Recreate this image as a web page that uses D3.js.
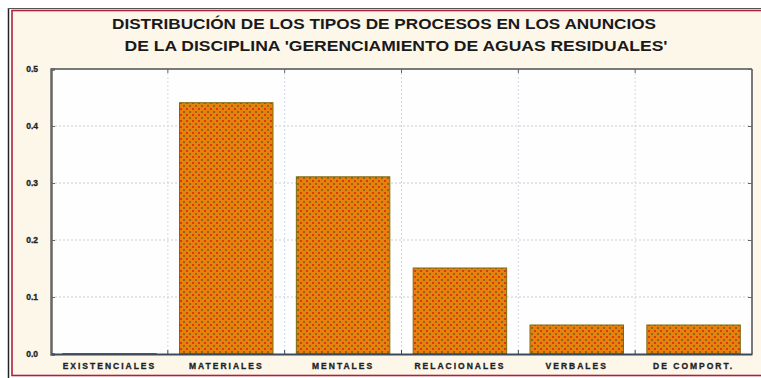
<!DOCTYPE html>
<html><head><meta charset="utf-8">
<script src="https://cdn.jsdelivr.net/npm/d3@7"></script>
<style>body{margin:0;background:#fff}svg{display:block}</style>
</head><body>
<script>
const categories = ["EXISTENCIALES","MATERIALES","MENTALES","RELACIONALES","VERBALES","DE COMPORT."];
const values = [0, 0.44, 0.31, 0.15, 0.05, 0.05];
const yTicks = [0, 0.1, 0.2, 0.3, 0.4, 0.5];
const titleLines = ["DISTRIBUCIÓN DE LOS TIPOS DE PROCESOS EN LOS ANUNCIOS","DE LA DISCIPLINA 'GERENCIAMIENTO DE AGUAS RESIDUALES'"];

const W = 761, H = 378;
const svg = d3.select("body").append("svg").attr("width", W).attr("height", H);
const defs = svg.append("defs");
const pat = defs.append("pattern").attr("id","dots").attr("patternUnits","userSpaceOnUse").attr("width",6).attr("height",6);
pat.append("rect").attr("width",6).attr("height",6).attr("fill","#e8800c");
pat.append("rect").attr("x",0).attr("y",0).attr("width",2).attr("height",2).attr("fill","#d83a14");
pat.append("rect").attr("x",3).attr("y",3).attr("width",2).attr("height",2).attr("fill","#8a6a14");

// frame background
svg.append("rect").attr("x",0).attr("y",0).attr("width",W).attr("height",H).attr("fill","#ffffff");
svg.append("rect").attr("x",12).attr("y",10).attr("width",W-12).attr("height",366).attr("fill","#fdf7ea");
svg.append("line").attr("x1",8.5).attr("x2",8.5).attr("y1",8).attr("y2",H).attr("stroke","#222").attr("stroke-width",1.5);
svg.append("line").attr("x1",8).attr("x2",W).attr("y1",8.5).attr("y2",8.5).attr("stroke","#555").attr("stroke-width",1);
svg.append("rect").attr("x",12).attr("y",10.5).attr("width",W-10).attr("height",365).attr("fill","none").attr("stroke","#b0203a").attr("stroke-width",1.6);

// title
svg.selectAll("text.title").data(titleLines).join("text").attr("class","title")
  .attr("x",(d,i)=> i===0 ? 384 : 396).attr("y",(d,i)=>29+i*22).attr("text-anchor","middle")
  .attr("font-family","Liberation Sans, Arial, sans-serif").attr("font-weight","bold").attr("font-size",15.5)
  .attr("fill","#1a1a1a").attr("textLength",(d,i)=> i===0 ? 544 : 543).attr("lengthAdjust","spacingAndGlyphs")
  .text(d=>d);

const m = {l:51, r:752, t:69, b:354};
const x = d3.scaleBand().domain(categories).range([m.l, m.r]).paddingInner(0.2).paddingOuter(0.1);
const y = d3.scaleLinear().domain([0,0.5]).range([m.b, m.t]);
const step = x.step();

svg.append("rect").attr("x",m.l).attr("y",m.t).attr("width",m.r-m.l).attr("height",m.b-m.t).attr("fill","#fefefe");

// grid
const g = svg.append("g");
g.selectAll("line.hg").data(yTicks.filter(t=>t>0 && t<0.5)).join("line")
  .attr("x1",m.l).attr("x2",m.r).attr("y1",d=>y(d)).attr("y2",d=>y(d))
  .attr("stroke","#c8ccd8").attr("stroke-width",1).attr("stroke-dasharray","2,2");
const bounds = d3.range(1, categories.length).map(i=> m.l + i*step);
g.selectAll("line.vg").data(bounds).join("line")
  .attr("x1",d=>d).attr("x2",d=>d).attr("y1",m.t).attr("y2",m.b)
  .attr("stroke","#d4d8e4").attr("stroke-width",1).attr("stroke-dasharray","2,2");

// bars
svg.selectAll("rect.bar").data(values).join("rect").attr("class","bar")
  .attr("x",(d,i)=>x(categories[i])).attr("width",x.bandwidth())
  .attr("y",d=>y(d)-0.5).attr("height",d=>Math.max(1, m.b - y(d)))
  .attr("fill","url(#dots)").attr("stroke","#7a6a10").attr("stroke-width",1);

// plot border
svg.append("line").attr("x1",m.l).attr("x2",m.r).attr("y1",m.t).attr("y2",m.t).attr("stroke","#7a7a7a").attr("stroke-width",2);
svg.append("line").attr("x1",m.r).attr("x2",m.r).attr("y1",m.t).attr("y2",m.b).attr("stroke","#7a7a7a").attr("stroke-width",2);

// axes
const yAxis = d3.axisLeft(y).tickValues(yTicks).tickFormat(d3.format(".1f")).tickSize(-4).tickPadding(13);
const ya = svg.append("g").attr("transform",`translate(${m.l},0)`).call(yAxis);
ya.select(".domain").attr("stroke","#666").attr("stroke-width",2.5);
ya.selectAll(".tick line").attr("stroke","#666");
ya.selectAll("text").attr("font-family","Liberation Sans, Arial, sans-serif").attr("font-weight","bold").attr("font-size",8.5)
  .attr("fill","#222").attr("stroke","#222").attr("stroke-width",0.3);

const yR = d3.axisRight(y).tickValues(yTicks).tickFormat("").tickSize(-4);
const yr = svg.append("g").attr("transform",`translate(${m.r},0)`).call(yR);
yr.select(".domain").remove();
yr.selectAll(".tick line").attr("stroke","#666");

svg.selectAll("line.tt").data(bounds).join("line").attr("x1",d=>d).attr("x2",d=>d).attr("y1",m.t).attr("y2",m.t+4).attr("stroke","#666");
svg.selectAll("line.bt").data(bounds).join("line").attr("x1",d=>d).attr("x2",d=>d).attr("y1",m.b).attr("y2",m.b-4).attr("stroke","#3a4a5a");

const xAxis = d3.axisBottom(x).tickSize(0).tickPadding(9);
const xa = svg.append("g").attr("transform",`translate(0,${m.b})`).call(xAxis);
xa.select(".domain").attr("stroke","#3a4a5a").attr("stroke-width",2);
xa.selectAll("text").attr("font-family","Liberation Sans, Arial, sans-serif").attr("font-weight","bold").attr("font-size",8.5)
  .attr("letter-spacing","2px").attr("fill","#222").attr("stroke","#222").attr("stroke-width",0.3);
</script>
</body></html>
